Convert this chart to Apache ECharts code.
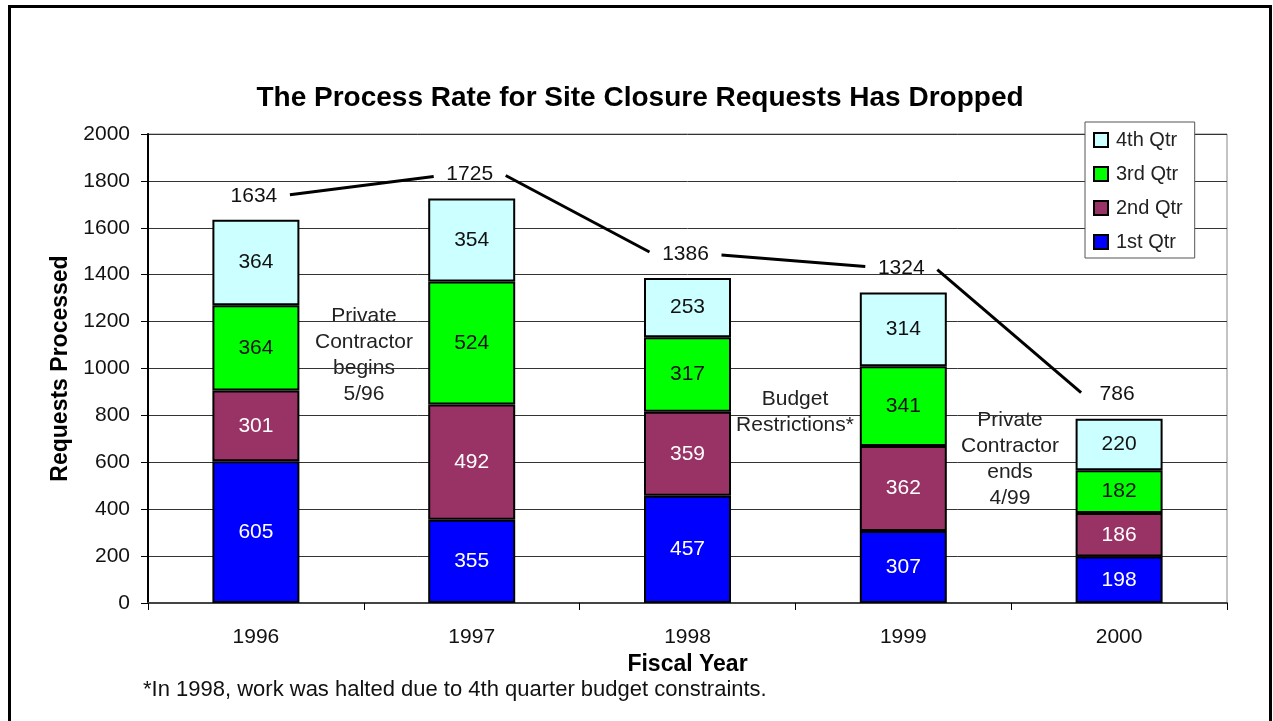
<!DOCTYPE html>
<html lang="en">
	<head>
		<meta charset="utf-8" />
		<title>Site Closure Requests</title>
		<style>
			html, body { margin: 0; padding: 0; background: #fff; }
		</style>
	</head>
	<body>
		<div id="main" style="width: 1273px; height: 721px;"></div>

		<script src="https://cdn.jsdelivr.net/npm/echarts@6/dist/echarts.min.js"></script>
		<script type="text/javascript">
			// data
			const years = ['1996', '1997', '1998', '1999', '2000'];
			const qtr1 = [605, 355, 457, 307, 198];
			const qtr2 = [301, 492, 359, 362, 186];
			const qtr3 = [364, 524, 317, 341, 182];
			const qtr4 = [364, 354, 253, 314, 220];
			const totals = [1634, 1725, 1386, 1324, 786];
			const yTicks = [0, 2000, 200]; // min, max, step

			const FONT = 'Liberation Sans';
			const FS = 21;
			const chart = echarts.init(document.getElementById('main'));

			function barSeries(name, data, color, labelColor) {
				return {
					name: name,
					type: 'bar',
					stack: 'total',
					data: data,
					barWidth: 87,
					itemStyle: { color: color, borderColor: '#000', borderWidth: 2 },
					label: {
						show: true,
						position: 'inside',
						color: labelColor,
						fontFamily: FONT,
						fontSize: FS
					},
					emphasis: { disabled: true }
				};
			}

			// total line: labels sit a little above each bar, segments run between them
			const LIFT = 24;
			const GAP = 36;
			const totalData = totals.map((t, i) => [i, t, i + 1 < totals.length ? totals[i + 1] : null]);

			function renderTotal(params, api) {
				const i = api.value(0);
				const p = api.coord([i, api.value(1)]);
				p[0] -= 2;
				p[1] -= LIFT;
				const children = [{
					type: 'text',
					x: p[0],
					y: p[1],
					style: {
						text: String(api.value(1)),
						font: FS + 'px "' + FONT + '"',
						fill: '#111',
						align: 'center',
						verticalAlign: 'middle'
					}
				}];
				const next = totalData[i][2];
				if (next != null) {
					const q = api.coord([i + 1, next]);
					q[0] -= 2;
					q[1] -= LIFT;
					const dir = q[1] > p[1] ? 1 : -1;
					children.push({
						type: 'line',
						shape: {
							x1: p[0] + GAP, y1: p[1] + dir * 1,
							x2: q[0] - GAP, y2: q[1] - dir * 2
						},
						style: { stroke: '#000', lineWidth: 3 }
					});
				}
				return { type: 'group', children: children };
			}

			const txt = (x, y, text, extra) => ({
				type: 'text',
				x: x,
				y: y,
				style: Object.assign({
					text: text,
					font: FS + 'px "' + FONT + '"',
					fill: '#222',
					align: 'center',
					verticalAlign: 'middle',
					lineHeight: 26
				}, extra || {})
			});

			const option = {
				animation: false,
				textStyle: { fontFamily: FONT },
				grid: {
					left: 148, right: 46, top: 134, bottom: 118,
					show: true, borderColor: '#888', borderWidth: 1
				},
				legend: {
					data: ['4th Qtr', '3rd Qtr', '2nd Qtr', '1st Qtr'],
					orient: 'vertical',
					left: 1085,
					top: 122,
					padding: [8, 12, 6, 8],
					icon: 'rect',
					itemWidth: 14,
					itemHeight: 14,
					itemGap: 14,
					backgroundColor: '#fff',
					borderColor: '#555',
					borderWidth: 1,
					borderRadius: 0,
					textStyle: { fontFamily: FONT, fontSize: 20, lineHeight: 20, color: '#222', padding: [0, 0, 0, 3] },
					selectedMode: false
				},
				xAxis: {
					type: 'category',
					data: years,
					name: 'Fiscal Year',
					nameLocation: 'middle',
					nameGap: 48,
					nameTextStyle: { fontFamily: FONT, fontSize: 23, fontWeight: 'bold', color: '#000' },
					axisLine: { lineStyle: { color: '#444', width: 2 } },
					axisTick: { show: true, alignWithLabel: false, length: 7, lineStyle: { color: '#000' } },
					axisLabel: { fontFamily: FONT, fontSize: FS, color: '#111', margin: 24 }
				},
				yAxis: {
					type: 'value',
					min: yTicks[0],
					max: yTicks[1],
					interval: yTicks[2],
					name: 'Requests Processed',
					nameLocation: 'middle',
					nameRotate: 90,
					nameGap: 72,
					nameTextStyle: { fontFamily: FONT, fontSize: 23, fontWeight: 'bold', color: '#000' },
					axisLine: { show: true, lineStyle: { color: '#000', width: 2 } },
					axisTick: { show: true, length: 7, lineStyle: { color: '#000' } },
					axisLabel: { fontFamily: FONT, fontSize: FS, color: '#111', margin: 18, formatter: v => String(v) },
					splitLine: { lineStyle: { color: '#333', width: 1 } }
				},
				series: [
					barSeries('1st Qtr', qtr1, '#0000FF', '#fff'),
					barSeries('2nd Qtr', qtr2, '#993366', '#fff'),
					barSeries('3rd Qtr', qtr3, '#00FF00', '#111'),
					barSeries('4th Qtr', qtr4, '#CCFFFF', '#111'),
					{
						name: 'Total',
						type: 'custom',
						renderItem: renderTotal,
						data: totalData,
						z: 5,
						silent: true
					}
				],
				graphic: [
					{
						type: 'rect',
						shape: { x: 9.5, y: 6.5, width: 1261, height: 730 },
						style: { fill: 'none', stroke: '#000', lineWidth: 3 },
						silent: true
					},
					txt(640, 98, 'The Process Rate for Site Closure Requests Has Dropped',
						{ font: 'bold 28px "' + FONT + '"', fill: '#000' }),
					txt(364, 355, 'Private\nContractor\nbegins\n5/96'),
					txt(795, 412, 'Budget\nRestrictions*'),
					txt(1010, 459, 'Private\nContractor\nends\n4/99'),
					txt(143, 690, '*In 1998, work was halted due to 4th quarter budget constraints.',
						{ align: 'left', fill: '#111', font: '22px "' + FONT + '"' })
				]
			};

			chart.setOption(option);
		</script>
	</body>
</html>
